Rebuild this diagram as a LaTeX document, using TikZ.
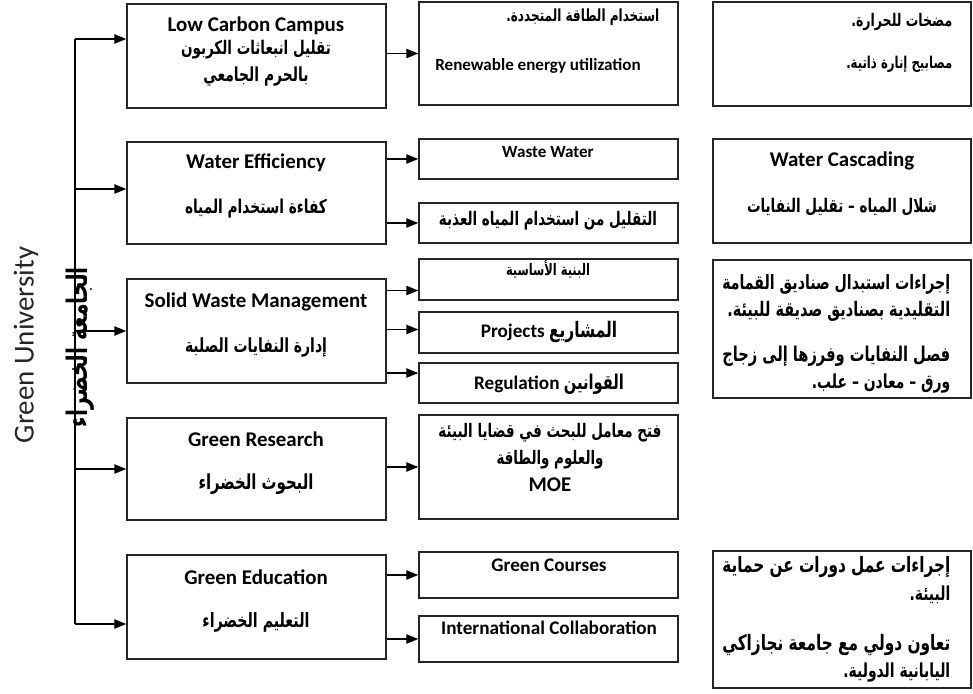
\documentclass[tikz,border=0pt]{standalone}
\usepackage{fontspec}
\usepackage{graphicx}
\setmainfont{Carlito}
\newfontfamily\arabicfont[Script=Arabic,FakeStretch=0.72]{DejaVu Sans}
\TeXXeTstate=1
\usetikzlibrary{arrows.meta,fit}
\newdimen\arpx \arpx=0.75pt
% Arabic line set to a given width (in pixels of the picture)
\newcommand{\arw}[2]{\resizebox{#1\arpx}{!}{\arabicfont\bfseries #2}}
\newcommand{\arn}[1]{{\arabicfont\bfseries #1}}

\begin{document}
\begin{tikzpicture}[x=0.75pt,y=-0.75pt]
\tikzstyle{block} = [rectangle, draw=black!85, line width=1.1pt, inner sep=0pt]
\tikzstyle{ttl} = [font=\bfseries\fontsize{15.7}{19}\selectfont]
\tikzstyle{mid} = [font=\bfseries\fontsize{14.4}{18}\selectfont]
\tikzstyle{sub} = [font=\bfseries\fontsize{12.8}{16}\selectfont]
\tikzstyle{artxt} = [font=\fontsize{12}{20.25}\selectfont, align=center]
\tikzstyle{arpar} = [font=\fontsize{14.5}{20.5}\selectfont, align=right, anchor=north east]
\tikzstyle{line} = [draw, line width=1.1pt, -{Triangle[length=9pt,width=7pt]}]
\useasboundingbox (0,0) rectangle (973,693);

% title on the left
\node[rotate=90, font=\fontsize{21.7}{26}\selectfont, text=black!85] (gu) at (26,345) {Green University};
\node[rotate=90] (gua) at (80,347) {\arw{160}{\beginR الجامعة الخضراء\endR}};

% column 1
\node[block, fit={(127,4) (386,108)}] (lcc) {};
\node[ttl] (lcc-en) at (256,26) {Low Carbon Campus};
\node[artxt] (lcc-ar) at (256,63) {\arw{150}{\beginR تقليل انبعاثات الكربون\endR}\\\arw{105}{\beginR بالحرم الجامعي\endR}};
\node[block, fit={(127,142) (386,244)}] (wef) {};
\node[ttl] (wef-en) at (256,163) {Water Efficiency};
\node[artxt] (wef-ar) at (256,209) {\arw{142}{\beginR كفاءة استخدام المياه\endR}};
\node[block, fit={(127,279) (386,383)}] (swm) {};
\node[ttl] (swm-en) at (256,302) {Solid Waste Management};
\node[artxt] (swm-ar) at (256,347) {\arw{142}{\beginR إدارة النفايات الصلبة\endR}};
\node[block, fit={(127,418) (386,520)}] (grs) {};
\node[ttl] (grs-en) at (256,439) {Green Research};
\node[artxt] (grs-ar) at (256,484) {\arw{115}{\beginR البحوث الخضراء\endR}};
\node[block, fit={(127,555) (386,659)}] (ged) {};
\node[ttl] (ged-en) at (256,577) {Green Education};
\node[artxt] (ged-ar) at (256,622) {\arw{107}{\beginR التعليم الخضراء\endR}};

% column 2
\node[block, fit={(419,2) (678,105)}] (ren) {};
\node[artxt, anchor=east] (ren-ar) at (664,17) {\arw{153}{\beginR استخدام الطاقة المتجددة.\endR}};
\node[sub] (ren-en) at (538,66) {Renewable energy utilization};
\node[block, fit={(419,139) (678,179)}] (wsw) {};
\node[sub] (wsw-en) at (548,152) {Waste Water};
\node[block, fit={(419,203) (678,243)}] (fre) {};
\node[artxt] (fre-ar) at (548,221) {\arw{218}{\beginR التقليل من استخدام المياه العذبة\endR}};
\node[block, fit={(419,259) (678,300)}] (inf) {};
\node[artxt] (inf-ar) at (548,269) {\arw{84}{\beginR البنية الأساسية\endR}};
\node[block, fit={(419,312) (678,353)}] (prj) {};
\node[mid] (prj-en) at (549,332) {Projects \arw{68}{\beginR المشاريع\endR}};
\node[block, fit={(419,363) (678,403)}] (reg) {};
\node[mid] (reg-en) at (549,384) {Regulation \arw{60}{\beginR القوانين\endR}};
\node[block, fit={(419,415) (678,519)}] (lab) {};
\node[artxt] (lab-ar) at (550,446) {\arw{223}{\beginR فتح معامل للبحث في قضايا البيئة\endR}\\\arw{107}{\beginR والعلوم والطاقة\endR}};
\node[ttl] (lab-en) at (550,485) {MOE};
\node[block, fit={(419,552) (678,598)}] (gcr) {};
\node[mid] (gcr-en) at (549,565) {Green Courses};
\node[block, fit={(419,616) (678,662)}] (icl) {};
\node[mid] (icl-en) at (549,628) {International Collaboration};

% column 3
\node[block, fit={(713,2) (971,106)}] (lcx) {};
\node[arpar, font=\fontsize{10}{31.5}\selectfont] (lcx-ar) at (957,9) {\arw{101}{\beginR مضخات للحرارة.\endR}\\\arw{106}{\beginR مصابيح إنارة ذاتية.\endR}};
\node[block, fit={(713,139) (971,243)}] (wcs) {};
\node[ttl] (wcs-en) at (842,161) {Water Cascading};
\node[artxt] (wcs-ar) at (842,207) {\arw{190}{\beginR شلال المياه – تقليل النفايات\endR}};
\node[block, fit={(713,260) (971,398)}] (swx) {};
\node[arpar] (swx-ar) at (955,270) {\arw{228}{\beginR إجراءات استبدال صناديق القمامة\endR}\\\arw{223}{\beginR التقليدية بصناديق صديقة للبيئة.\endR}\\[13pt]\arw{228}{\beginR فصل النفايات وفرزها إلى زجاج\endR}\\\arn{\beginR ورق – معادن – علب.\endR}};
\node[block, fit={(713,551) (971,688)}] (gex) {};
\node[arpar] (gex-ar) at (955,552) {\arw{228}{\beginR إجراءات عمل دورات عن حماية\endR}\\\arn{\beginR البيئة.\endR}\\[17pt]\arw{228}{\beginR تعاون دولي مع جامعة نجازاكي\endR}\\\arn{\beginR اليابانية الدولية.\endR}};

% spine and arrow ends
\coordinate (s1) at (75,39);
\coordinate (s2) at (75,189);
\coordinate (s3) at (75,331);
\coordinate (s4) at (75,469);
\coordinate (s5) at (75,624);
\coordinate (inf-in) at ([shift={(0,11)}]inf.west);
\coordinate (prj-in) at ([shift={(0,-3)}]prj.west);
\coordinate (reg-in) at ([shift={(0,-10)}]reg.west);

\tikzstyle{every path}=[line]
\path[-] (s1) -- (s5);
\path (s1) -- (lcc.west |- s1);
\path (s2) -- (wef.west |- s2);
\path (s3) -- (swm.west |- s3);
\path (s4) -- (grs.west |- s4);
\path (s5) -- (ged.west |- s5);
\path (lcc.east |- ren.west) -- (ren.west);
\path (wef.east |- wsw.west) -- (wsw.west);
\path (wef.east |- fre.west) -- (fre.west);
\path (swm.east |- inf-in) -- (inf-in);
\path (swm.east |- prj-in) -- (prj-in);
\path (swm.east |- reg-in) -- (reg-in);
\path (grs.east |- lab.west) -- (lab.west);
\path (ged.east |- gcr.west) -- (gcr.west);
\path (ged.east |- icl.west) -- (icl.west);
\end{tikzpicture}
\end{document}
